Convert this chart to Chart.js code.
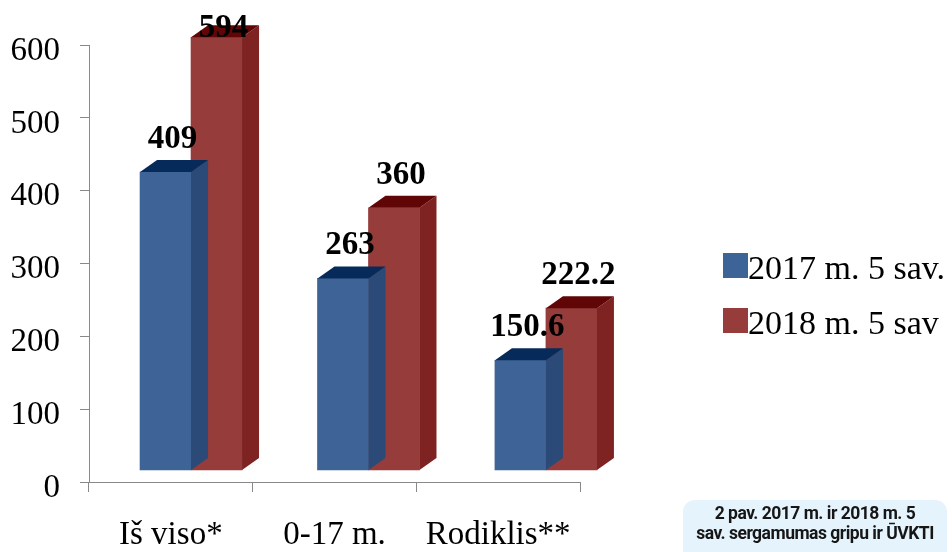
<!DOCTYPE html>
<html>
<head>
<meta charset="utf-8">
<script src="https://cdn.jsdelivr.net/npm/chart.js@4.4.1/dist/chart.umd.min.js"></script>
<style>
    html, body { margin: 0; padding: 0; background: #fff; }
    body { width: 952px; height: 552px; position: relative; overflow: hidden; }
    #wrap { position: absolute; left: 0; top: 0; width: 952px; height: 552px; }
    .lg-row { position: absolute; left: 723px; height: 36px; }
    .lg-box { position: absolute; left: 0; top: 0; width: 25px; height: 25px; }
    .lg-txt { position: absolute; left: 25px; top: -2px; font: 34px/33px "Liberation Serif", "Times New Roman", serif; color: #000; white-space: nowrap; }
    #caption {
        position: absolute; left: 683px; top: 500px; width: 264px; height: 64px;
        background: #e5f3fc; border-radius: 12px;
        font: 700 17.5px/20px Roboto, sans-serif; letter-spacing: -0.5px; color: #161616;
        text-align: center; padding-top: 3px; box-sizing: border-box;
    }
</style>
</head>
<body>
<div id="wrap">
    <canvas id="myChart"></canvas>
    <div id="legend"></div>
</div>
<div id="caption">2 pav. 2017 m. ir 2018 m. 5<br>sav. sergamumas gripu ir ŪVKTI</div>

<script>
const categories = ['Iš viso*', '0-17 m.', 'Rodiklis**'];
const seriesNames = ['2017 m. 5 sav.', '2018 m. 5 sav'];
const values2017 = [409, 263, 150.6];
const values2018 = [594, 360, 222.2];
const yTicks = [0, 100, 200, 300, 400, 500, 600];

// front / top / side colours of the fake 3D columns
const FRONT = ['#3e6497', '#963d3b'];
const TOP = ['#062a5a', '#600606'];
const SIDE = ['#2b4a78', '#7e2322'];
const DEPTH_X = 17;
const DEPTH_Y = 12;

const bars3d = {
    id: 'bars3d',
    afterDatasetDraw(chart, args) {
        const ctx = chart.ctx;
        const i = args.index;
        args.meta.data.forEach(bar => {
            const p = bar.getProps(['x', 'y', 'base', 'width'], true);
            const l = p.x - p.width / 2;
            const r = p.x + p.width / 2;
            ctx.save();
            ctx.fillStyle = SIDE[i];
            ctx.beginPath();
            ctx.moveTo(r, p.y);
            ctx.lineTo(r + DEPTH_X, p.y - DEPTH_Y);
            ctx.lineTo(r + DEPTH_X, p.base - DEPTH_Y);
            ctx.lineTo(r, p.base);
            ctx.closePath();
            ctx.fill();
            ctx.fillStyle = TOP[i];
            ctx.beginPath();
            ctx.moveTo(l, p.y);
            ctx.lineTo(r, p.y);
            ctx.lineTo(r + DEPTH_X, p.y - DEPTH_Y);
            ctx.lineTo(l + DEPTH_X, p.y - DEPTH_Y);
            ctx.closePath();
            ctx.fill();
            ctx.restore();
        });
    }
};

const valueLabels = {
    id: 'valueLabels',
    afterDatasetsDraw(chart) {
        const ctx = chart.ctx;
        ctx.save();
        ctx.font = 'bold 33px "Liberation Serif"';
        ctx.fillStyle = '#000';
        ctx.textAlign = 'center';
        ctx.textBaseline = 'alphabetic';
        chart.data.datasets.forEach((ds, i) => {
            chart.getDatasetMeta(i).data.forEach((bar, j) => {
                ctx.fillText(String(ds.data[j].y), bar.x + 7, Math.max(bar.y - 24, 37));
            });
        });
        ctx.restore();
    }
};

// legend
const legend = document.getElementById('legend');
seriesNames.forEach((name, i) => {
    const row = document.createElement('div');
    row.className = 'lg-row';
    row.style.top = (253 + i * 55) + 'px';
    row.innerHTML = `<div class="lg-box" style="background:${FRONT[i]}"></div><div class="lg-txt">${name}</div>`;
    legend.appendChild(row);
});

const axisColor = '#898989';
const tickFont = { family: 'Liberation Serif', size: 33 };

const config = {
    type: 'bar',
    data: {
        labels: categories,
        datasets: [values2017, values2018].map((vals, i) => ({
            label: seriesNames[i],
            data: vals.map((v, j) => ({ x: j, y: v })),
            backgroundColor: FRONT[i],
            borderWidth: 0,
            barThickness: 51,
            xAxisID: 'xb',
            yAxisID: 'yb',
            clip: false
        }))
    },
    options: {
        responsive: true,
        maintainAspectRatio: false,
        animation: false,
        layout: { padding: { top: 45, right: 372, bottom: 0, left: 0 } },
        plugins: {
            legend: { display: false },
            tooltip: { enabled: false }
        },
        scales: {
            x: {
                type: 'category',
                offset: true,
                grid: { offset: true, drawOnChartArea: false, color: axisColor, tickLength: 10 },
                border: { color: axisColor, width: 1 },
                ticks: { font: tickFont, color: '#000', padding: 24, maxRotation: 0 },
                afterFit(scale) { scale.height = 70; }
            },
            y: {
                type: 'linear',
                min: yTicks[0],
                max: yTicks[yTicks.length - 1],
                grid: { drawOnChartArea: false, color: axisColor, tickLength: 9 },
                border: { color: axisColor, width: 1 },
                ticks: { stepSize: yTicks[1] - yTicks[0], font: tickFont, color: '#000', padding: 20, labelOffset: 6 },
                afterFit(scale) { scale.width = 89; }
            },
            // hidden scales placing the front faces of the 3D columns
            xb: { type: 'linear', display: false, offset: false, grid: { offset: false }, min: -0.575, max: 2.192 },
            yb: { type: 'linear', display: false, min: -16.5, max: 583.5 }
        }
    },
    plugins: [bars3d, valueLabels]
};

const myChart = new Chart(document.getElementById('myChart'), config);
</script>
</body>
</html>
